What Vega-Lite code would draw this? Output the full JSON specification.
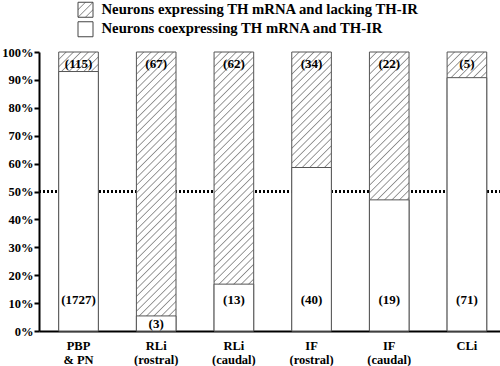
{
  "$schema": "https://vega.github.io/schema/vega-lite/v6.json",
  "padding": {"left": 1, "top": 0, "right": 0, "bottom": 0},
  "spacing": 6,
  "config": {
    "view": {"stroke": null},
    "font": "Liberation Serif",
    "text": {"font": "Liberation Serif"},
    "axisX": {"title": null, "domainColor": "black", "domainWidth": 2, "ticks": false, "labelFont": "Liberation Serif", "labelFontSize": 12.5, "labelFontWeight": "bold", "labelColor": "black", "labelPadding": 8, "labelLineHeight": 14, "labelAngle": 0, "labelExpr": "split(datum.value, '|')", "zindex": 1, "grid": false},
    "axisY": {"title": null, "domainColor": "black", "domainWidth": 2, "tickColor": "black", "tickWidth": 2, "tickSize": 5, "labelFont": "Liberation Serif", "labelFontSize": 12.5, "labelFontWeight": "bold", "labelColor": "black", "labelPadding": 1, "labelOverlap": false, "zindex": 1, "grid": false}
  },
  "vconcat": [
    {
      "width": 93,
      "height": 39,
      "data": {"values": [
        {"label": "Neurons expressing TH mRNA and lacking TH-IR", "kind": "lacking"},
        {"label": "Neurons coexpressing TH mRNA and TH-IR", "kind": "coexpressing"}
      ]},
      "layer": [
        {
          "transform": [{"filter": "datum.kind == 'lacking'"}],
          "mark": {"type": "square", "size": 225, "filled": true, "opacity": 1, "stroke": "#444", "strokeWidth": 1, "yOffset": -1,
            "fill": {"gradient": "linear", "x1": 0, "y1": 0, "x2": 1, "y2": 1, "stops": [
              {"offset": 0, "color": "white"},
              {"offset": 0.2125, "color": "white"}, {"offset": 0.25, "color": "#8c8c8c"}, {"offset": 0.2875, "color": "white"},
              {"offset": 0.4625, "color": "white"}, {"offset": 0.5, "color": "#8c8c8c"}, {"offset": 0.5375, "color": "white"},
              {"offset": 0.7125, "color": "white"}, {"offset": 0.75, "color": "#8c8c8c"}, {"offset": 0.7875, "color": "white"},
              {"offset": 1, "color": "white"}
            ]}},
          "encoding": {"y": {"field": "label", "type": "nominal", "axis": null,
            "scale": {"domain": ["Neurons expressing TH mRNA and lacking TH-IR", "Neurons coexpressing TH mRNA and TH-IR"]}}}
        },
        {
          "transform": [{"filter": "datum.kind == 'coexpressing'"}],
          "mark": {"type": "square", "size": 225, "filled": true, "opacity": 1, "stroke": "#444", "strokeWidth": 1, "fill": "white", "yOffset": -1},
          "encoding": {"y": {"field": "label", "type": "nominal", "axis": null}}
        },
        {
          "mark": {"type": "text", "align": "left", "dx": 16, "yOffset": -1, "fontSize": 14.7, "fontWeight": "bold", "color": "black"},
          "encoding": {
            "y": {"field": "label", "type": "nominal", "axis": null},
            "text": {"field": "label"}
          }
        }
      ]
    },
    {
      "width": 462,
      "height": 279,
      "data": {"values": [
        {"region": "PBP|& PN", "co": 93.0, "co_label": "(1727)", "lack_label": "(115)"},
        {"region": "RLi|(rostral)", "co": 5.4, "co_label": "(3)", "lack_label": "(67)"},
        {"region": "RLi|(caudal)", "co": 16.8, "co_label": "(13)", "lack_label": "(62)"},
        {"region": "IF|(rostral)", "co": 58.6, "co_label": "(40)", "lack_label": "(34)"},
        {"region": "IF|(caudal)", "co": 47.0, "co_label": "(19)", "lack_label": "(22)"},
        {"region": "CLi", "co": 90.8, "co_label": "(71)", "lack_label": "(5)"}
      ]},
      "layer": [
        {
          "mark": {"type": "rule", "strokeDash": [2, 2], "strokeWidth": 2, "color": "black"},
          "encoding": {"y": {"datum": 50, "type": "quantitative",
            "scale": {"domain": [0, 100], "nice": false},
            "axis": {"values": [0, 10, 20, 30, 40, 50, 60, 70, 80, 90, 100], "labelOverlap": false, "labelExpr": "datum.value + '%'"}}}
        },
        {
          "mark": {"type": "bar", "stroke": "#555", "strokeWidth": 1,
            "fill": {"gradient": "linear", "x1": 0, "y1": 0, "x2": 0.15888, "y2": 1.11938, "stops": [
              {"offset": 0, "color": "white"},
              {"offset": 0.0195, "color": "white"}, {"offset": 0.0233, "color": "#8c8c8c"}, {"offset": 0.0271, "color": "white"},
              {"offset": 0.0427, "color": "white"}, {"offset": 0.0465, "color": "#8c8c8c"}, {"offset": 0.0503, "color": "white"},
              {"offset": 0.0660, "color": "white"}, {"offset": 0.0698, "color": "#8c8c8c"}, {"offset": 0.0736, "color": "white"},
              {"offset": 0.0892, "color": "white"}, {"offset": 0.0930, "color": "#8c8c8c"}, {"offset": 0.0968, "color": "white"},
              {"offset": 0.1125, "color": "white"}, {"offset": 0.1163, "color": "#8c8c8c"}, {"offset": 0.1201, "color": "white"},
              {"offset": 0.1357, "color": "white"}, {"offset": 0.1395, "color": "#8c8c8c"}, {"offset": 0.1433, "color": "white"},
              {"offset": 0.1590, "color": "white"}, {"offset": 0.1628, "color": "#8c8c8c"}, {"offset": 0.1666, "color": "white"},
              {"offset": 0.1822, "color": "white"}, {"offset": 0.1861, "color": "#8c8c8c"}, {"offset": 0.1899, "color": "white"},
              {"offset": 0.2055, "color": "white"}, {"offset": 0.2093, "color": "#8c8c8c"}, {"offset": 0.2131, "color": "white"},
              {"offset": 0.2288, "color": "white"}, {"offset": 0.2326, "color": "#8c8c8c"}, {"offset": 0.2364, "color": "white"},
              {"offset": 0.2520, "color": "white"}, {"offset": 0.2558, "color": "#8c8c8c"}, {"offset": 0.2596, "color": "white"},
              {"offset": 0.2753, "color": "white"}, {"offset": 0.2791, "color": "#8c8c8c"}, {"offset": 0.2829, "color": "white"},
              {"offset": 0.2985, "color": "white"}, {"offset": 0.3023, "color": "#8c8c8c"}, {"offset": 0.3061, "color": "white"},
              {"offset": 0.3218, "color": "white"}, {"offset": 0.3256, "color": "#8c8c8c"}, {"offset": 0.3294, "color": "white"},
              {"offset": 0.3450, "color": "white"}, {"offset": 0.3488, "color": "#8c8c8c"}, {"offset": 0.3526, "color": "white"},
              {"offset": 0.3683, "color": "white"}, {"offset": 0.3721, "color": "#8c8c8c"}, {"offset": 0.3759, "color": "white"},
              {"offset": 0.3916, "color": "white"}, {"offset": 0.3954, "color": "#8c8c8c"}, {"offset": 0.3992, "color": "white"},
              {"offset": 0.4148, "color": "white"}, {"offset": 0.4186, "color": "#8c8c8c"}, {"offset": 0.4224, "color": "white"},
              {"offset": 0.4381, "color": "white"}, {"offset": 0.4419, "color": "#8c8c8c"}, {"offset": 0.4457, "color": "white"},
              {"offset": 0.4613, "color": "white"}, {"offset": 0.4651, "color": "#8c8c8c"}, {"offset": 0.4689, "color": "white"},
              {"offset": 0.4846, "color": "white"}, {"offset": 0.4884, "color": "#8c8c8c"}, {"offset": 0.4922, "color": "white"},
              {"offset": 0.5078, "color": "white"}, {"offset": 0.5116, "color": "#8c8c8c"}, {"offset": 0.5154, "color": "white"},
              {"offset": 0.5311, "color": "white"}, {"offset": 0.5349, "color": "#8c8c8c"}, {"offset": 0.5387, "color": "white"},
              {"offset": 0.5543, "color": "white"}, {"offset": 0.5581, "color": "#8c8c8c"}, {"offset": 0.5619, "color": "white"},
              {"offset": 0.5776, "color": "white"}, {"offset": 0.5814, "color": "#8c8c8c"}, {"offset": 0.5852, "color": "white"},
              {"offset": 0.6009, "color": "white"}, {"offset": 0.6047, "color": "#8c8c8c"}, {"offset": 0.6085, "color": "white"},
              {"offset": 0.6241, "color": "white"}, {"offset": 0.6279, "color": "#8c8c8c"}, {"offset": 0.6317, "color": "white"},
              {"offset": 0.6474, "color": "white"}, {"offset": 0.6512, "color": "#8c8c8c"}, {"offset": 0.6550, "color": "white"},
              {"offset": 0.6706, "color": "white"}, {"offset": 0.6744, "color": "#8c8c8c"}, {"offset": 0.6782, "color": "white"},
              {"offset": 0.6939, "color": "white"}, {"offset": 0.6977, "color": "#8c8c8c"}, {"offset": 0.7015, "color": "white"},
              {"offset": 0.7171, "color": "white"}, {"offset": 0.7209, "color": "#8c8c8c"}, {"offset": 0.7247, "color": "white"},
              {"offset": 0.7404, "color": "white"}, {"offset": 0.7442, "color": "#8c8c8c"}, {"offset": 0.7480, "color": "white"},
              {"offset": 0.7636, "color": "white"}, {"offset": 0.7674, "color": "#8c8c8c"}, {"offset": 0.7712, "color": "white"},
              {"offset": 0.7869, "color": "white"}, {"offset": 0.7907, "color": "#8c8c8c"}, {"offset": 0.7945, "color": "white"},
              {"offset": 0.8102, "color": "white"}, {"offset": 0.8140, "color": "#8c8c8c"}, {"offset": 0.8178, "color": "white"},
              {"offset": 0.8334, "color": "white"}, {"offset": 0.8372, "color": "#8c8c8c"}, {"offset": 0.8410, "color": "white"},
              {"offset": 0.8567, "color": "white"}, {"offset": 0.8605, "color": "#8c8c8c"}, {"offset": 0.8643, "color": "white"},
              {"offset": 0.8799, "color": "white"}, {"offset": 0.8837, "color": "#8c8c8c"}, {"offset": 0.8875, "color": "white"},
              {"offset": 0.9032, "color": "white"}, {"offset": 0.9070, "color": "#8c8c8c"}, {"offset": 0.9108, "color": "white"},
              {"offset": 0.9264, "color": "white"}, {"offset": 0.9302, "color": "#8c8c8c"}, {"offset": 0.9340, "color": "white"},
              {"offset": 0.9497, "color": "white"}, {"offset": 0.9535, "color": "#8c8c8c"}, {"offset": 0.9573, "color": "white"},
              {"offset": 0.9729, "color": "white"}, {"offset": 0.9767, "color": "#8c8c8c"}, {"offset": 0.9805, "color": "white"},
              {"offset": 1, "color": "white"}
            ]}},
          "encoding": {
            "x": {"field": "region", "type": "nominal", "sort": null,
              "scale": {"paddingInner": 0.49, "paddingOuter": 0.2188, "align": 0.58}},
            "y": {"datum": 100, "type": "quantitative",
              "axis": {"values": [0, 10, 20, 30, 40, 50, 60, 70, 80, 90, 100], "labelOverlap": false, "labelExpr": "datum.value + '%'"}},
            "y2": {"datum": 0}
          }
        },
        {
          "mark": {"type": "bar", "fill": "white", "stroke": "#555", "strokeWidth": 1},
          "encoding": {
            "x": {"field": "region", "type": "nominal", "sort": null},
            "y": {"field": "co", "type": "quantitative",
              "axis": {"values": [0, 10, 20, 30, 40, 50, 60, 70, 80, 90, 100], "labelOverlap": false, "labelExpr": "datum.value + '%'"}}
          }
        },
        {
          "mark": {"type": "text", "fontSize": 13, "fontWeight": "bold", "color": "black"},
          "encoding": {
            "x": {"field": "region", "type": "nominal", "sort": null},
            "y": {"datum": 95.6, "type": "quantitative",
              "axis": {"values": [0, 10, 20, 30, 40, 50, 60, 70, 80, 90, 100], "labelOverlap": false, "labelExpr": "datum.value + '%'"}},
            "text": {"field": "lack_label"}
          }
        },
        {
          "transform": [{"filter": "datum.region != 'RLi|(rostral)'"}],
          "mark": {"type": "text", "fontSize": 13, "fontWeight": "bold", "color": "black"},
          "encoding": {
            "x": {"field": "region", "type": "nominal", "sort": null},
            "y": {"datum": 11, "type": "quantitative",
              "axis": {"values": [0, 10, 20, 30, 40, 50, 60, 70, 80, 90, 100], "labelOverlap": false, "labelExpr": "datum.value + '%'"}},
            "text": {"field": "co_label"}
          }
        },
        {
          "transform": [{"filter": "datum.region == 'RLi|(rostral)'"}],
          "mark": {"type": "text", "fontSize": 13, "fontWeight": "bold", "color": "black"},
          "encoding": {
            "x": {"field": "region", "type": "nominal", "sort": null},
            "y": {"datum": 2.5, "type": "quantitative",
              "axis": {"values": [0, 10, 20, 30, 40, 50, 60, 70, 80, 90, 100], "labelOverlap": false, "labelExpr": "datum.value + '%'"}},
            "text": {"field": "co_label"}
          }
        }
      ]
    }
  ]
}
